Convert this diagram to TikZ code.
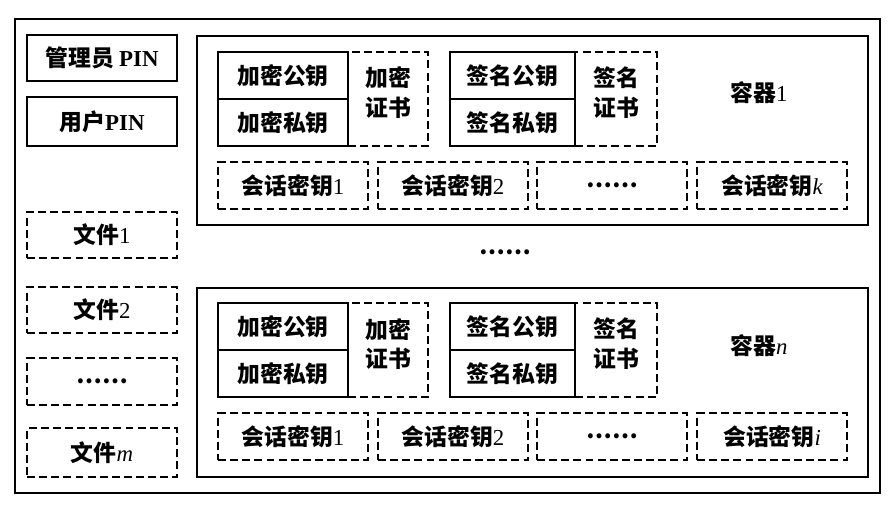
\documentclass[tikz,border=0pt]{standalone}
\usepackage{fontspec}
\setmainfont{Liberation Serif}
\newfontfamily\cjk{Noto Sans CJK SC}
\usepackage{tikz}

\begin{document}
\begin{tikzpicture}[
  x=0.02cm,y=-0.02cm,
  frame/.style={draw=black, line width=1pt, inner sep=0pt},
  keybox/.style={draw=black, line width=0.9pt, inner sep=0pt, align=center, font=\fontsize{13}{17}\selectfont\cjk\bfseries},
  dbox/.style={keybox, dash pattern=on 4.5pt off 2.4pt, line width=0.85pt},
  label/.style={inner sep=0pt, font=\fontsize{13}{17}\selectfont\cjk\bfseries}
]
\useasboundingbox (0,0) rectangle (891,512);
% outer card and the two containers
\node[frame, line width=1.2pt, minimum width=17.3cm, minimum height=9.48cm] (card) at (447.5,256) {};
\node[frame, minimum width=13.42cm, minimum height=3.78cm] (box1) at (532.5,130.5) {};
\node[frame, minimum width=13.42cm, minimum height=3.78cm] (boxn) at (532.5,382.5) {};
% left column
\node[keybox, minimum width=3cm, minimum height=0.92cm] (admin) at (102,58) {管理员 {\rmfamily\bfseries PIN}};
\node[keybox, minimum width=3cm, minimum height=0.98cm] (user) at (102,121.5) {用户{\rmfamily\bfseries PIN}};
\node[dbox, minimum width=3cm, minimum height=0.92cm] (file1) at (102,235) {文件{\rmfamily\mdseries 1}};
\node[dbox, minimum width=3cm, minimum height=0.92cm] (file2) at (102,310) {文件{\rmfamily\mdseries 2}};
\node[dbox, minimum width=3cm, minimum height=0.94cm] (filed) at (102,381.5) {……};
\node[dbox, minimum width=3cm, minimum height=0.98cm] (filem) at (102,452.5) {文件{\rmfamily\mdseries\itshape m}};
% container 1
\node[keybox, minimum width=2.6cm, minimum height=0.94cm] (encpub1) at (283,75.5) {加密公钥};
\node[keybox, minimum width=2.6cm, minimum height=0.94cm] (encpri1) at (283,122.5) {加密私钥};
\node[dbox, minimum width=1.6cm, minimum height=1.88cm] (enccert1) at (388,99) {加密\\证书\\[-9pt]};
\node[keybox, minimum width=2.5cm, minimum height=0.94cm] (sigpub1) at (512.5,75.5) {签名公钥};
\node[keybox, minimum width=2.5cm, minimum height=0.94cm] (sigpri1) at (512.5,122.5) {签名私钥};
\node[dbox, minimum width=1.64cm, minimum height=1.88cm] (sigcert1) at (616,99) {签名\\证书\\[-9pt]};
\node[label] (name1) at (759,93) {容器{\rmfamily\mdseries 1}};
\node[dbox, minimum width=3cm, minimum height=0.94cm] (sess1a) at (293,185.5) {会话密钥{\rmfamily\mdseries 1}};
\node[dbox, minimum width=3cm, minimum height=0.94cm] (sess1b) at (453,185.5) {会话密钥{\rmfamily\mdseries 2}};
\node[dbox, minimum width=3cm, minimum height=0.94cm] (sess1c) at (612,185.5) {……};
\node[dbox, minimum width=3cm, minimum height=0.94cm] (sess1k) at (772,185.5) {会话密钥{\rmfamily\mdseries\itshape k}};
% gap between containers
\node[label] (more) at (505,252) {……};
% container n
\node[keybox, minimum width=2.6cm, minimum height=0.94cm] (encpubn) at (283,326.5) {加密公钥};
\node[keybox, minimum width=2.6cm, minimum height=0.94cm] (encprin) at (283,373.5) {加密私钥};
\node[dbox, minimum width=1.6cm, minimum height=1.88cm] (enccertn) at (388,350) {加密\\证书\\[-9pt]};
\node[keybox, minimum width=2.5cm, minimum height=0.94cm] (sigpubn) at (512.5,326.5) {签名公钥};
\node[keybox, minimum width=2.5cm, minimum height=0.94cm] (sigprin) at (512.5,373.5) {签名私钥};
\node[dbox, minimum width=1.64cm, minimum height=1.88cm] (sigcertn) at (616,350) {签名\\证书\\[-9pt]};
\node[label] (namen) at (759,346) {容器{\rmfamily\mdseries\itshape n}};
\node[dbox, minimum width=3cm, minimum height=0.94cm] (sessna) at (293,436.5) {会话密钥{\rmfamily\mdseries 1}};
\node[dbox, minimum width=3cm, minimum height=0.94cm] (sessnb) at (453,436.5) {会话密钥{\rmfamily\mdseries 2}};
\node[dbox, minimum width=3cm, minimum height=0.94cm] (sessnc) at (612,436.5) {……};
\node[dbox, minimum width=3cm, minimum height=0.94cm] (sessni) at (772,436.5) {会话密钥{\rmfamily\mdseries\itshape i}};
\end{tikzpicture}
\end{document}
